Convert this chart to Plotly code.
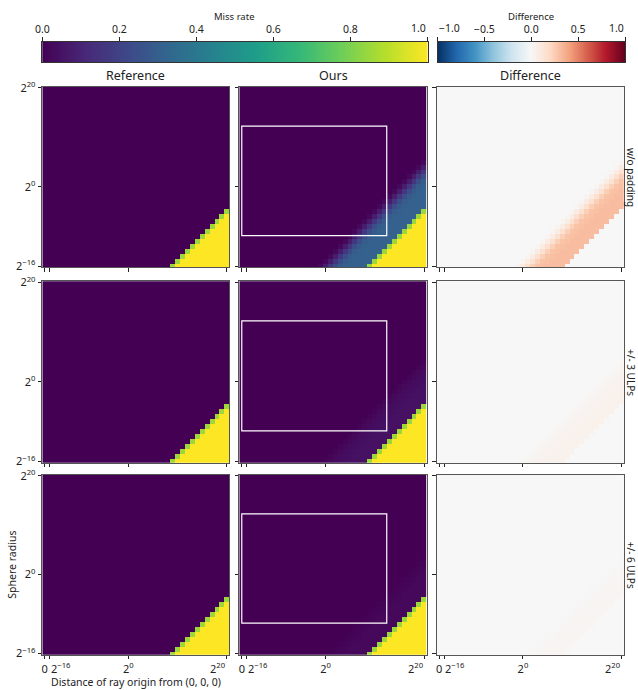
import numpy as np
import plotly.graph_objects as go

W, H = 638, 690

# Axis coordinates: -17 stands for distance 0, others are log2 exponents
x_exponents = [-17] + list(range(-16, 21))
y_exponents = list(range(-16, 21))

x_tickvals = [-17, -16, 0, 20]
x_ticktext = ["0", "2<sup>−16</sup>", "2<sup>0</sup>", "2<sup>20</sup>"]
y_tickvals = [-16, 0, 20]
y_ticktext = ["2<sup>−16</sup>", "2<sup>0</sup>", "2<sup>20</sup>"]

miss_ticks = [0, 0.2, 0.4, 0.6, 0.8, 1.0]
miss_ticktext = ["0.0", "0.2", "0.4", "0.6", "0.8", "1.0"]
diff_ticks = [-1, -0.5, 0, 0.5, 1]
diff_ticktext = ["−1.0", "−0.5", "0.0", "0.5", "1.0"]

# Miss rate read along diagonals: offset = log2(radius) - log2(distance)
offsets = [-26, -25, -24, -23, -22, -21, -20, -19, -18, -17, -16, -15]
ref_miss = [1.0, 0.85, 0, 0, 0, 0, 0, 0, 0, 0, 0, 0]
ours_wo_padding = [1.0, 0.85, 0.31, 0.31, 0.31, 0.31, 0.30, 0.29, 0.24, 0.16, 0.08, 0.02]
ours_3ulps = [1.0, 0.85, 0.045, 0.045, 0.045, 0.045, 0.04, 0.035, 0.03, 0.02, 0.01, 0.0]
ours_6ulps = [1.0, 0.85, 0.02, 0.02, 0.02, 0.02, 0.02, 0.015, 0.01, 0.005, 0.0, 0.0]

row_labels = ["w/o padding", "+/- 3 ULPs", "+/- 6 ULPs"]
col_titles = ["Reference", "Ours", "Difference"]

# "typical scene" rectangle drawn on the Ours panels (log2 coords)
rect_x = [-17, 12.4]
rect_y = [-9.85, 12.3]


def build_grid(profile):
    lut = dict(zip(offsets, profile))
    grid = []
    for ey in y_exponents:
        row = []
        for ex in x_exponents:
            if ex == -17:
                row.append(0.0)
                continue
            d = ey - ex
            if d < offsets[0]:
                row.append(profile[0])
            elif d > offsets[-1]:
                row.append(0.0)
            else:
                row.append(lut[d])
        grid.append(row)
    return np.array(grid)


ref_grid = build_grid(ref_miss)
ours_grids = [build_grid(p) for p in (ours_wo_padding, ours_3ulps, ours_6ulps)]

col_px = [(42.3, 229.3), (239.3, 426.7), (436.7, 624.0)]
row_px = [(86.7, 267.3), (281.3, 462.7), (474.7, 654.7)]
cb_top, cb_bot = 41.5, 62.0
cb1_px = (42.3, 427.5)
cb2_px = (437.5, 625.0)


def xd(a, b):
    return [a / W, b / W]


def yd(top, bottom):
    return [1 - bottom / H, 1 - top / H]


FONT = "Noto Sans"
TXT = "#222"
fig = go.Figure()
layout = {}
shapes = []
annotations = []


def ann(text, xpx, ypx, size, angle=0, xanchor="center", yanchor="middle"):
    annotations.append(dict(text=text, x=xpx / W, y=1 - ypx / H, xref="paper", yref="paper",
                            showarrow=False, textangle=angle, xanchor=xanchor, yanchor=yanchor,
                            font=dict(family=FONT, size=size, color=TXT)))


tick_style = dict(ticks="outside", ticklen=3.5, tickwidth=1, tickcolor=TXT, tickangle=0,
                  showline=True, mirror=True, linecolor="#555", linewidth=1.2,
                  showgrid=False, zeroline=False, automargin=False,
                  tickfont=dict(family=FONT, size=11, color=TXT))

for r in range(3):
    panels = [ref_grid, ours_grids[r], ours_grids[r] - ref_grid]
    for c in range(3):
        idx = r * 3 + c + 1
        z = panels[c]
        if c < 2:
            cs, zmin, zmax = "Viridis", 0, 1
        else:
            cs, zmin, zmax = "RdBu_r", -1, 1
        fig.add_trace(go.Heatmap(
            x=x_exponents, y=y_exponents, z=z, colorscale=cs, zmin=zmin, zmax=zmax,
            showscale=False, hoverinfo="skip", xaxis=f"x{idx}", yaxis=f"y{idx}"))
        bottom = (r == 2)
        if bottom:
            xt = dict(tickvals=[x_tickvals[0], x_tickvals[2]],
                      ticktext=[x_ticktext[0], x_ticktext[2]], showticklabels=True,
                      minor=dict(tickvals=[x_tickvals[1], x_tickvals[3]], ticks="outside",
                                 ticklen=3.5, tickwidth=1, tickcolor=TXT, showgrid=False))
        else:
            xt = dict(tickvals=x_tickvals, showticklabels=False)
        layout[f"xaxis{idx}"] = dict(domain=xd(*col_px[c]), anchor=f"y{idx}",
                                     range=[-17.5, 20.5], **xt, **tick_style)
        layout[f"yaxis{idx}"] = dict(domain=yd(*row_px[r]), anchor=f"x{idx}",
                                     range=[-16.23, 20.25], tickvals=y_tickvals,
                                     ticktext=y_ticktext, showticklabels=(c == 0), **tick_style)
        if c == 1:
            shapes.append(dict(type="rect", xref=f"x{idx}", yref=f"y{idx}",
                               x0=rect_x[0], x1=rect_x[1], y0=rect_y[0], y1=rect_y[1],
                               line=dict(color="white", width=1.2)))
        if bottom:
            # edge tick labels are aligned inward, as in the reference
            annotations.append(dict(text=x_ticktext[1], x=x_tickvals[1] - 0.2, y=1 - 658 / H,
                                    xref=f"x{idx}", yref="paper", showarrow=False,
                                    xanchor="left", yanchor="top",
                                    font=dict(family=FONT, size=11, color=TXT)))
            annotations.append(dict(text=x_ticktext[3], x=x_tickvals[3] + 0.3, y=1 - 658 / H,
                                    xref=f"x{idx}", yref="paper", showarrow=False,
                                    xanchor="right", yanchor="top",
                                    font=dict(family=FONT, size=11, color=TXT)))

# colorbars drawn as gradient heatmaps
cb_miss = np.linspace(0, 1, 256)
cb_diff = np.linspace(-1, 1, 256)
fig.add_trace(go.Heatmap(x=cb_miss, y=[0], z=[cb_miss], colorscale="Viridis", zmin=0, zmax=1,
                         showscale=False, hoverinfo="skip", xaxis="x10", yaxis="y10"))
fig.add_trace(go.Heatmap(x=cb_diff, y=[0], z=[cb_diff], colorscale="RdBu_r", zmin=-1, zmax=1,
                         showscale=False, hoverinfo="skip", xaxis="x11", yaxis="y11"))
cb_common = dict(side="top", ticks="outside", ticklen=3.5, tickcolor=TXT, tickangle=0,
                 showline=True, mirror=True, linecolor="#333", linewidth=1, automargin=False,
                 showgrid=False, zeroline=False, tickfont=dict(family=FONT, size=10.5, color=TXT))
cb_minor = dict(ticks="outside", ticklen=3.5, tickwidth=1, tickcolor=TXT, showgrid=False)
layout["xaxis10"] = dict(domain=xd(*cb1_px), anchor="y10", range=[0, 1],
                         tickvals=miss_ticks[:-1], ticktext=miss_ticktext[:-1],
                         minor=dict(tickvals=[miss_ticks[-1]], **cb_minor), **cb_common)
layout["yaxis10"] = dict(domain=yd(cb_top, cb_bot), anchor="x10", range=[-0.5, 0.5],
                         showticklabels=False, ticks="", showgrid=False, zeroline=False,
                         showline=True, mirror=True, linecolor="#333", linewidth=1,
                         automargin=False)
layout["xaxis11"] = dict(domain=xd(*cb2_px), anchor="y11", range=[-1, 1],
                         tickvals=diff_ticks[1:-1], ticktext=diff_ticktext[1:-1],
                         minor=dict(tickvals=[diff_ticks[0], diff_ticks[-1]], **cb_minor),
                         **cb_common)
layout["yaxis11"] = dict(domain=yd(cb_top, cb_bot), anchor="x11", range=[-0.5, 0.5],
                         showticklabels=False, ticks="", showgrid=False, zeroline=False,
                         showline=True, mirror=True, linecolor="#333", linewidth=1,
                         automargin=False)
# inward-aligned edge labels of the colorbars
ann(miss_ticktext[-1], cb1_px[1] + 0.5, 28, 10.5, xanchor="right")
ann(diff_ticktext[0], cb2_px[0] - 0.5, 28, 10.5, xanchor="left")
ann(diff_ticktext[-1], cb2_px[1] + 0.5, 28, 10.5, xanchor="right")

ann("Miss rate", (cb1_px[0] + cb1_px[1]) / 2, 16, 9.5)
ann("Difference", (cb2_px[0] + cb2_px[1]) / 2, 16, 9.5)
for c in range(3):
    ann(col_titles[c], (col_px[c][0] + col_px[c][1]) / 2, 76, 12.5)
for r in range(3):
    ann(row_labels[r], 631, (row_px[r][0] + row_px[r][1]) / 2, 10, angle=90)
ann("Sphere radius", 12, (row_px[2][0] + row_px[2][1]) / 2, 10.5, angle=-90)
ann("Distance of ray origin from (0, 0, 0)", (col_px[0][0] + col_px[0][1]) / 2, 682, 10.5)

fig.update_layout(
    width=W, height=H, margin=dict(l=0, r=0, t=0, b=0, autoexpand=False),
    paper_bgcolor="white", plot_bgcolor="white", showlegend=False,
    font=dict(family=FONT, size=10.5, color=TXT),
    shapes=shapes, annotations=annotations, **layout)

fig.write_html("out.html", config={"displayModeBar": False},
               post_script="document.body.style.margin='0';document.body.style.overflow='hidden';")
